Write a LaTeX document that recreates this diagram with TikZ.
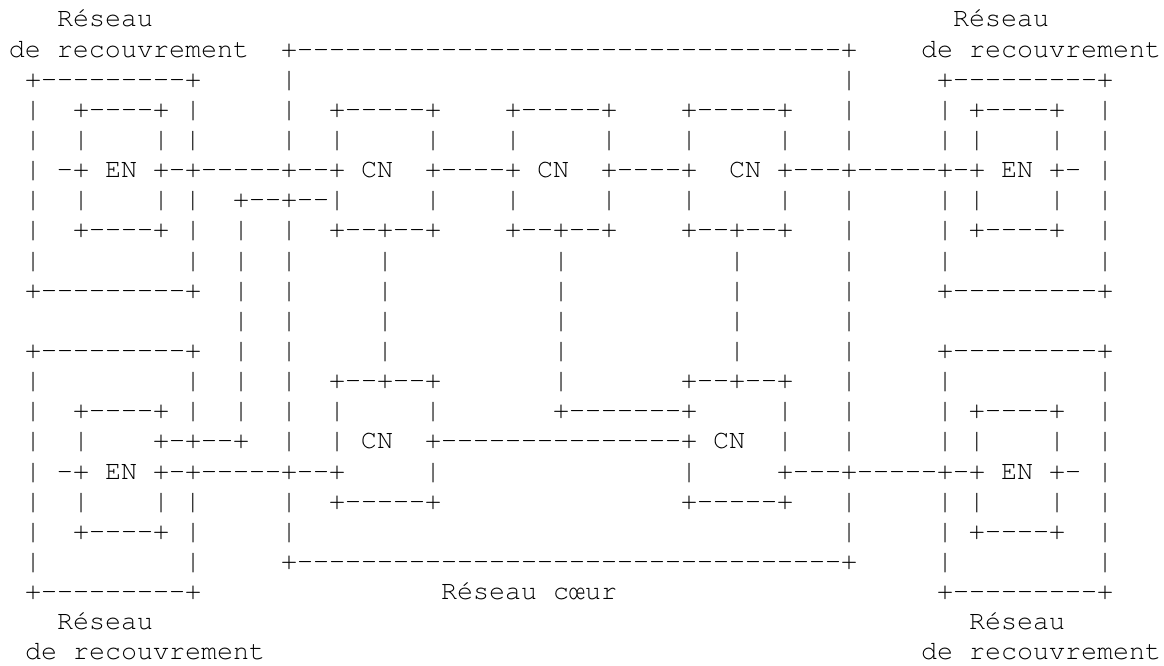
\documentclass[tikz,border=0pt]{standalone}
\usepackage{fontspec}
\newfontfamily\asciifont{TeX Gyre Cursor}
\tikzset{
  ascii/.style={inner sep=0pt, outer sep=0pt, anchor=base west,
    font=\asciifont\fontsize{26.6667pt}{30pt}\selectfont}
}
% one character cell is 16pt wide, one text line is 30.14pt high
\newcommand\seg[3]{%
  \node[ascii] (s#1-#2) at ({9pt+16pt*#2}, {-(27pt+30.14pt*(#1-1))}) {#3};}
\begin{document}
\begin{tikzpicture}
\path[use as bounding box] (0,0) rectangle (1164pt,-666pt);
% row 1
\seg{1}{3}{Réseau}\seg{1}{59}{Réseau}
% row 2
\seg{2}{0}{de recouvrement}
\seg{2}{17}{+----------------------------------+}
\seg{2}{57}{de recouvrement}
% row 3
\seg{3}{1}{+---------+}\seg{3}{17}{|}\seg{3}{52}{|}\seg{3}{58}{+---------+}
% row 4
\seg{4}{1}{|}\seg{4}{4}{+----+ |}\seg{4}{17}{|}
\seg{4}{20}{+-----+}\seg{4}{31}{+-----+}\seg{4}{42}{+-----+}
\seg{4}{52}{|}\seg{4}{58}{| +----+}\seg{4}{68}{|}
% row 5
\seg{5}{1}{|}\seg{5}{4}{|}\seg{5}{9}{| |}\seg{5}{17}{|}\seg{5}{20}{|}
\seg{5}{26}{|}\seg{5}{31}{|}\seg{5}{37}{|}\seg{5}{42}{|}\seg{5}{48}{|}
\seg{5}{52}{|}\seg{5}{58}{| |}\seg{5}{65}{|}\seg{5}{68}{|}
% row 6
\seg{6}{1}{| -+ EN +-+-----+--+ CN}\seg{6}{26}{+----+ CN}
\seg{6}{37}{+----+}\seg{6}{45}{CN +---+-----+-+ EN +- |}
% row 7
\seg{7}{1}{|}\seg{7}{4}{|}\seg{7}{9}{| |}\seg{7}{14}{+--+--|}
\seg{7}{26}{|}\seg{7}{31}{|}\seg{7}{37}{|}\seg{7}{42}{|}\seg{7}{48}{|}
\seg{7}{52}{|}\seg{7}{58}{| |}\seg{7}{65}{|}\seg{7}{68}{|}
% row 8
\seg{8}{1}{|}\seg{8}{4}{+----+ |}\seg{8}{14}{|}\seg{8}{17}{|}
\seg{8}{20}{+--+--+}\seg{8}{31}{+--+--+}\seg{8}{42}{+--+--+}
\seg{8}{52}{|}\seg{8}{58}{| +----+}\seg{8}{68}{|}
% row 9
\seg{9}{1}{|}\seg{9}{11}{|}\seg{9}{14}{|}\seg{9}{17}{|}\seg{9}{23}{|}
\seg{9}{34}{|}\seg{9}{45}{|}\seg{9}{52}{|}\seg{9}{58}{|}\seg{9}{68}{|}
% row 10
\seg{10}{1}{+---------+}\seg{10}{14}{|}\seg{10}{17}{|}\seg{10}{23}{|}
\seg{10}{34}{|}\seg{10}{45}{|}\seg{10}{52}{|}\seg{10}{58}{+---------+}
% row 11
\seg{11}{14}{|}\seg{11}{17}{|}\seg{11}{23}{|}\seg{11}{34}{|}
\seg{11}{45}{|}\seg{11}{52}{|}
% row 12
\seg{12}{1}{+---------+}\seg{12}{14}{|}\seg{12}{17}{|}\seg{12}{23}{|}
\seg{12}{34}{|}\seg{12}{45}{|}\seg{12}{52}{|}\seg{12}{58}{+---------+}
% row 13
\seg{13}{1}{|}\seg{13}{11}{|}\seg{13}{14}{|}\seg{13}{17}{|}
\seg{13}{20}{+--+--+}\seg{13}{34}{|}\seg{13}{42}{+--+--+}
\seg{13}{52}{|}\seg{13}{58}{|}\seg{13}{68}{|}
% row 14
\seg{14}{1}{|}\seg{14}{4}{+----+ |}\seg{14}{14}{|}\seg{14}{17}{|}
\seg{14}{20}{|}\seg{14}{26}{|}\seg{14}{34}{+-------+}\seg{14}{48}{|}
\seg{14}{52}{|}\seg{14}{58}{| +----+}\seg{14}{68}{|}
% row 15
\seg{15}{1}{|}\seg{15}{4}{|}\seg{15}{9}{+-+--+}\seg{15}{17}{|}
\seg{15}{20}{| CN}\seg{15}{26}{+---------------+ CN}\seg{15}{48}{|}
\seg{15}{52}{|}\seg{15}{58}{| |}\seg{15}{65}{|}\seg{15}{68}{|}
% row 16
\seg{16}{1}{| -+ EN +-+-----+--+}\seg{16}{26}{|}\seg{16}{42}{|}
\seg{16}{48}{+---+-----+-+ EN +- |}
% row 17
\seg{17}{1}{|}\seg{17}{4}{|}\seg{17}{9}{| |}\seg{17}{17}{|}
\seg{17}{20}{+-----+}\seg{17}{42}{+-----+}\seg{17}{52}{|}
\seg{17}{58}{| |}\seg{17}{65}{|}\seg{17}{68}{|}
% row 18
\seg{18}{1}{|}\seg{18}{4}{+----+ |}\seg{18}{17}{|}\seg{18}{52}{|}
\seg{18}{58}{| +----+}\seg{18}{68}{|}
% row 19
\seg{19}{1}{|}\seg{19}{11}{|}\seg{19}{17}{+----------------------------------+}
\seg{19}{58}{|}\seg{19}{68}{|}
% row 20
\seg{20}{1}{+---------+}\seg{20}{27}{Réseau cœur}\seg{20}{58}{+---------+}
% row 21
\seg{21}{3}{Réseau}\seg{21}{60}{Réseau}
% row 22
\seg{22}{1}{de recouvrement}\seg{22}{57}{de recouvrement}
\end{tikzpicture}
\end{document}
